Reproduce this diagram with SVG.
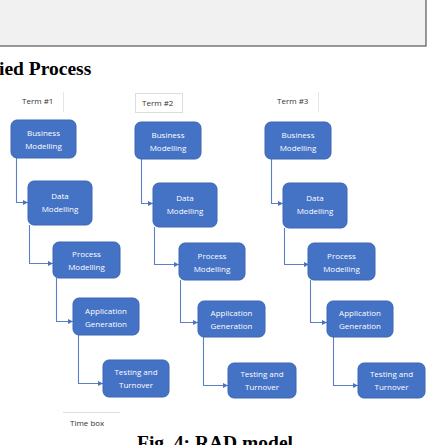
<svg xmlns="http://www.w3.org/2000/svg" width="427" height="445" viewBox="0 0 427 445">
<defs>
<marker id="ah" viewBox="0 0 6 6" refX="6" refY="3" markerWidth="5" markerHeight="5" orient="auto" markerUnits="userSpaceOnUse">
<path d="M0,0 L6,3 L0,6 z" fill="#4a72c0"/>
</marker>
</defs>
<style>
.box{fill:#4472c4;stroke:#3b66b3;stroke-width:1}
.bt{font-family:"Open Sans","Liberation Sans",sans-serif;font-size:8px;fill:#ffffff;text-anchor:middle}
.conn{fill:none;stroke:#5b80c8;stroke-width:1.1;marker-end:url(#ah)}
.term{font-family:"Open Sans","Liberation Sans",sans-serif;font-size:8px;fill:#333333}
.head{font-family:"Liberation Serif","Times New Roman",serif;font-weight:bold;font-size:19.5px;fill:#000000}
</style>
<rect x="0" y="0" width="427" height="445" fill="#ffffff"/>
<rect x="-2" y="-2" width="428" height="48" fill="#f1f1f1" stroke="#555555" stroke-width="1.2"/>
<text class="head" x="-1" y="75">ied Process</text>
<text class="head" x="137" y="449">Fig. 4: RAD model</text>

<g id="terms">
<text class="term" x="22" y="104">Term #1</text>
<line x1="63.5" y1="92" x2="63.5" y2="112" stroke="#e6e6e6" stroke-width="1"/>
<rect x="135.5" y="93.5" width="47" height="19" fill="#ffffff" stroke="#dddddd" stroke-width="1"/>
<text class="term" x="142" y="106" fill="#555">Term #2</text>
<text class="term" x="277" y="104">Term #3</text>
<line x1="318.5" y1="92" x2="318.5" y2="112" stroke="#e6e6e6" stroke-width="1"/>
<line x1="63" y1="412.5" x2="120" y2="412.5" stroke="#dddddd" stroke-width="1"/>
<text class="term" x="70" y="426">Time box</text>
</g>

<g id="connectors">
<path class="conn" d="M16.5,158 V202.5 H28"/>
<path class="conn" d="M29.5,225 V263.5 H53"/>
<path class="conn" d="M56.5,278 V321.5 H73"/>
<path class="conn" d="M78.5,335 V383.5 H103"/>

<path class="conn" d="M141.5,159 V203.5 H153"/>
<path class="conn" d="M154.5,227 V264.5 H179"/>
<path class="conn" d="M180.5,280 V322.5 H198"/>
<path class="conn" d="M203.5,337 V385.5 H228"/>

<path class="conn" d="M271.5,159 V203.5 H283"/>
<path class="conn" d="M284.5,228 V264.5 H309"/>
<path class="conn" d="M310.5,280 V322.5 H327"/>
<path class="conn" d="M333.5,337 V385.5 H358"/>
</g>

<g id="bm1"><rect class="box" x="11" y="120" width="65" height="38" rx="6"/><text class="bt" x="43.5" y="136">Business</text><text class="bt" x="43.5" y="149">Modelling</text></g>
<g id="dm1"><rect class="box" x="28" y="181" width="64" height="44" rx="6"/><text class="bt" x="60" y="199">Data</text><text class="bt" x="60" y="212">Modelling</text></g>
<g id="pm1"><rect class="box" x="53" y="242" width="67" height="36" rx="6"/><text class="bt" x="86.5" y="257">Process</text><text class="bt" x="86.5" y="270">Modelling</text></g>
<g id="ag1"><rect class="box" x="73" y="298" width="66" height="37" rx="6"/><text class="bt" x="106" y="314">Application</text><text class="bt" x="106" y="327">Generation</text></g>
<g id="tt1"><rect class="box" x="103" y="360" width="66" height="37" rx="6"/><text class="bt" x="136" y="375">Testing and</text><text class="bt" x="136" y="388">Turnover</text></g>

<g id="bm2"><rect class="box" x="135" y="122" width="66" height="37" rx="6"/><text class="bt" x="168" y="138">Business</text><text class="bt" x="168" y="151">Modelling</text></g>
<g id="dm2"><rect class="box" x="153" y="183" width="64" height="44" rx="6"/><text class="bt" x="185" y="201">Data</text><text class="bt" x="185" y="214">Modelling</text></g>
<g id="pm2"><rect class="box" x="179" y="243" width="66" height="37" rx="6"/><text class="bt" x="212" y="259">Process</text><text class="bt" x="212" y="272">Modelling</text></g>
<g id="ag2"><rect class="box" x="198" y="301" width="67" height="36" rx="6"/><text class="bt" x="231.5" y="316">Application</text><text class="bt" x="231.5" y="329">Generation</text></g>
<g id="tt2"><rect class="box" x="228" y="363" width="68" height="35" rx="6"/><text class="bt" x="262" y="377">Testing and</text><text class="bt" x="262" y="390">Turnover</text></g>

<g id="bm3"><rect class="box" x="265" y="122" width="66" height="37" rx="6"/><text class="bt" x="298" y="138">Business</text><text class="bt" x="298" y="151">Modelling</text></g>
<g id="dm3"><rect class="box" x="283" y="183" width="64" height="45" rx="6"/><text class="bt" x="315" y="201">Data</text><text class="bt" x="315" y="214">Modelling</text></g>
<g id="pm3"><rect class="box" x="308" y="243" width="67" height="37" rx="6"/><text class="bt" x="341.5" y="259">Process</text><text class="bt" x="341.5" y="272">Modelling</text></g>
<g id="ag3"><rect class="box" x="327" y="301" width="66" height="36" rx="6"/><text class="bt" x="360" y="316">Application</text><text class="bt" x="360" y="329">Generation</text></g>
<g id="tt3"><rect class="box" x="358" y="363" width="67" height="35" rx="6"/><text class="bt" x="391.5" y="377">Testing and</text><text class="bt" x="391.5" y="390">Turnover</text></g>
</svg>
